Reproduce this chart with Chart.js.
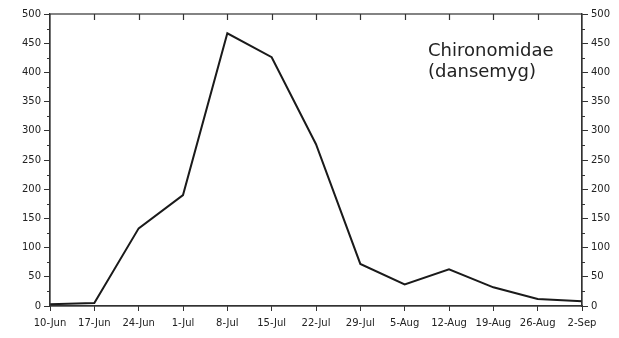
<!DOCTYPE html>
<html>
<head>
<meta charset="utf-8">
<script src="https://cdn.jsdelivr.net/npm/chart.js@4.4.1/dist/chart.umd.min.js"></script>
<style>
  html, body { margin: 0; padding: 0; background: #fff; }
  #wrap { width: 619px; height: 338px; }
</style>
</head>
<body>
<div id="wrap"><canvas id="c"></canvas></div>
<script>
// sample dates and catch counts (Chironomidae)
const dates = ['10-Jun', '17-Jun', '24-Jun', '1-Jul', '8-Jul', '15-Jul', '22-Jul',
  '29-Jul', '5-Aug', '12-Aug', '19-Aug', '26-Aug', '2-Sep'];
const counts = [3, 5, 133, 190, 467, 426, 277, 72, 37, 63, 32, 12, 8];
const yTicks = [0, 50, 100, 150, 200, 250, 300, 350, 400, 450, 500];
const labelLines = ['Chironomidae', '(dansemyg)'];

const ink = '#333';
const tickFont = { family: 'DejaVu Sans', size: 10 };

// frame, minor ticks, inward top ticks and the label
const framePlugin = {
  id: 'frame',
  afterDraw(chart) {
    const { ctx, chartArea: a, scales } = chart;
    ctx.save();
    ctx.strokeStyle = ink;
    ctx.lineWidth = 1.2;
    ctx.strokeRect(a.left, a.top, a.right - a.left, a.bottom - a.top);
    ctx.beginPath();
    for (let v = 25; v < 500; v += 50) {
      const y = Math.round(scales.y.getPixelForValue(v)) + 0.5;
      ctx.moveTo(a.left - 3, y); ctx.lineTo(a.left, y);
      ctx.moveTo(a.right, y); ctx.lineTo(a.right + 3, y);
    }
    for (let i = 1; i < dates.length - 1; i++) {
      const x = Math.round(scales.x.getPixelForValue(i)) + 0.5;
      ctx.moveTo(x, a.top); ctx.lineTo(x, a.top + 6);
    }
    ctx.stroke();
    ctx.fillStyle = '#222';
    ctx.font = '18px "DejaVu Sans"';
    ctx.textBaseline = 'alphabetic';
    ctx.fillText(labelLines[0], 428, 56);
    ctx.fillText(labelLines[1], 428, 77);
    ctx.restore();
  }
};

const yAxis = (pos) => ({
  type: 'linear',
  position: pos,
  min: 0,
  max: 500,
  afterBuildTicks: s => { s.ticks = yTicks.map(v => ({ value: v })); },
  afterFit: s => { s.width = pos === 'left' ? 50 : 37; },
  border: { display: true, color: ink, width: 1.2 },
  grid: { drawOnChartArea: false, color: ink, tickLength: 6, lineWidth: 1 },
  ticks: { color: '#222', font: tickFont, padding: 3 }
});

new Chart(document.getElementById('c'), {
  type: 'line',
  data: {
    labels: dates,
    datasets: [{
      data: counts,
      borderColor: '#1a1a1a',
      borderWidth: 2,
      pointRadius: 0,
      tension: 0,
      fill: false
    }]
  },
  options: {
    responsive: true,
    maintainAspectRatio: false,
    animation: false,
    layout: { padding: { top: 14, left: 0, right: 0, bottom: 0 } },
    plugins: { legend: { display: false }, tooltip: { enabled: false } },
    scales: {
      x: {
        type: 'category',
        offset: false,
        afterFit: s => { s.height = 32; },
        border: { display: true, color: ink, width: 1.2 },
        grid: { drawOnChartArea: false, color: ink, tickLength: 5 },
        ticks: { color: '#222', font: tickFont, autoSkip: false, maxRotation: 0, padding: 6 }
      },
      y: yAxis('left'),
      y2: yAxis('right')
    }
  },
  plugins: [framePlugin]
});
</script>
</body>
</html>
